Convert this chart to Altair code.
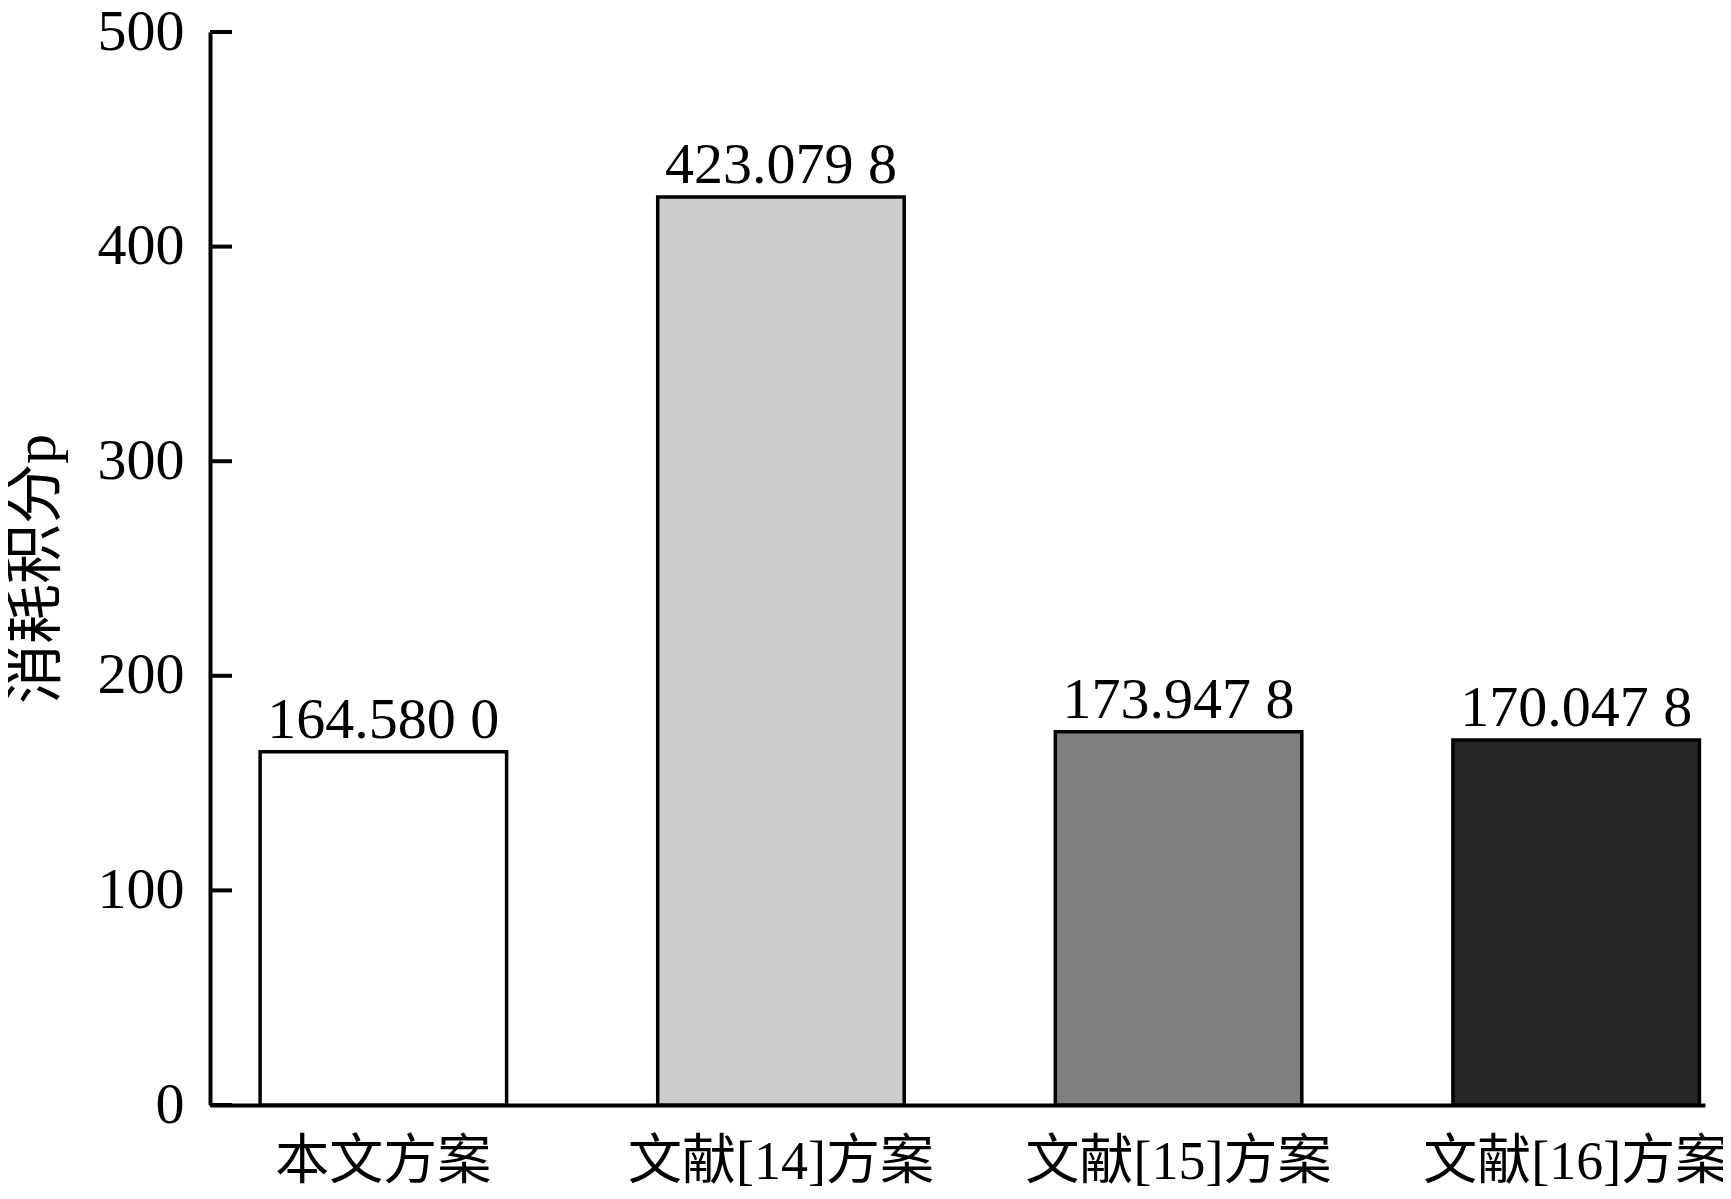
import altair as alt
import pandas as pd

categories = ["本文方案", "文献[14]方案", "文献[15]方案", "文献[16]方案"]
values = [164.5800, 423.0798, 173.9478, 170.0478]
value_labels = ["164.580 0", "423.079 8", "173.947 8", "170.047 8"]
fill_colors = ["#ffffff", "#cccccc", "#808080", "#262626"]
y_ticks = [0, 100, 200, 300, 400, 500]

df = pd.DataFrame({"方案": categories, "消耗积分": values, "标签": value_labels})
ticks_df = pd.DataFrame({"消耗积分": y_ticks})

FONT = "Liberation Serif, Noto Sans CJK SC"

x_scale = alt.Scale(paddingInner=0.38, paddingOuter=0.07, align=0.9)
x_axis = alt.Axis(title=None, labelAngle=0, ticks=False, labelPadding=30,
                  labelFontSize=54, labelFont=FONT, labelColor="black", labelLimit=0,
                  domainWidth=4, domainColor="black")
y_scale = alt.Scale(domain=[0, 500], nice=False)
y_axis = alt.Axis(values=y_ticks, title="消耗积分p", ticks=False, grid=False,
                  labelPadding=26, labelFontSize=58, labelFont=FONT, labelColor="black",
                  titleFont=FONT, titleFontSize=60, titleFontWeight="normal",
                  titleColor="black", titlePadding=30,
                  domainWidth=4, domainColor="black")

bars = alt.Chart(df).mark_bar(stroke="black", strokeWidth=3.5).encode(
    x=alt.X("方案:N", sort=categories, scale=x_scale, axis=x_axis),
    y=alt.Y("消耗积分:Q", scale=y_scale, axis=y_axis),
    fill=alt.Fill("方案:N", scale=alt.Scale(domain=categories, range=fill_colors), legend=None),
)

texts = alt.Chart(df).mark_text(baseline="bottom", dy=-2, font=FONT, fontSize=58, color="black").encode(
    x=alt.X("方案:N", sort=categories),
    y=alt.Y("消耗积分:Q"),
    text="标签:N",
)

tick_rules = alt.Chart(ticks_df).mark_rule(strokeWidth=4, color="black").encode(
    x=alt.value(0),
    x2=alt.value(22),
    y=alt.Y("消耗积分:Q"),
)

chart = alt.layer(bars, texts, tick_rules).properties(
    width=1495,
    height=1073,
    autosize=alt.AutoSizeParams(type="none"),
    padding={"left": 202, "top": 24, "right": 18, "bottom": 90},
    background="white",
).configure_view(stroke=None)

chart.save("out.html", embed_options={"renderer": "svg", "actions": False})
